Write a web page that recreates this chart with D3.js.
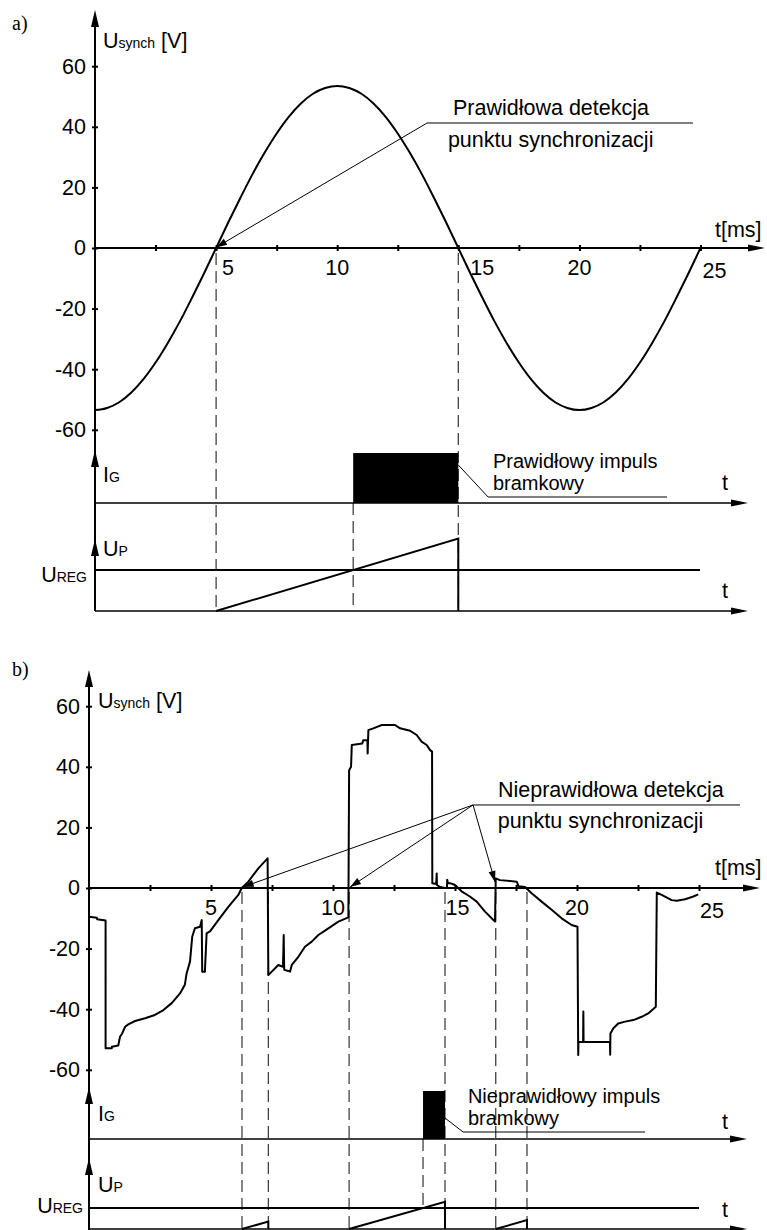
<!DOCTYPE html>
<html>
<head>
<meta charset="utf-8">
<script src="https://cdn.jsdelivr.net/npm/d3@7"></script>
<style>
  body { margin:0; background:#fff; }
  svg { display:block; font-family:"Liberation Sans", Arial, sans-serif; }
</style>
</head>
<body>
<svg id="fig" width="767" height="1230"></svg>
<script>
/* ── data ───────────────────────────────── */
const tTicks  = [2.5, 5, 7.5, 10, 12.5, 15, 17.5, 20, 22.5, 25];
const tLabels = [5, 10, 15, 20, 25];
const vTicks  = [60, 40, 20, 0, -20, -40, -60];

// a) clean synchronising voltage, read at 0.5 ms steps
const sineT = [0,0.5,1,1.5,2,2.5,3,3.5,4,4.5,5,5.5,6,6.5,7,7.5,8,8.5,9,9.5,10,10.5,11,11.5,12,12.5,
               13,13.5,14,14.5,15,15.5,16,16.5,17,17.5,18,18.5,19,19.5,20,20.5,21,21.5,22,22.5,23,23.5,24,24.5,25];
const sineV = [-53.5,-52.8,-50.9,-47.7,-43.3,-37.8,-31.4,-24.3,-16.5,-8.4,0,8.4,16.5,24.3,31.4,37.8,43.3,47.7,50.9,52.8,
               53.5,52.8,50.9,47.7,43.3,37.8,31.4,24.3,16.5,8.4,0,-8.4,-16.5,-24.3,-31.4,-37.8,-43.3,-47.7,-50.9,-52.8,
               -53.5,-52.8,-50.9,-47.7,-43.3,-37.8,-31.4,-24.3,-16.5,-8.4,0];

// b) distorted synchronising voltage [t ms, V]
const distorted = [
  [0,-9.5],[0.32,-9.8],[0.33,-10.3],[0.68,-10.7],[0.68,-52.9],[0.93,-52.9],[0.94,-52.4],[1.2,-52],
  [1.27,-49.1],[1.36,-48],[1.48,-45.8],[1.61,-45],[1.89,-43.9],[2.3,-43],[2.7,-41.9],[3.05,-40.3],
  [3.39,-38],[3.73,-34.8],[3.93,-31.9],[4.0,-28.2],[4.14,-24.3],[4.23,-16.1],[4.34,-13.3],[4.55,-12.8],
  [4.62,-10.6],[4.64,-27.6],[4.75,-27.6],[4.82,-15],[4.96,-14.3],[5.3,-10.6],[5.71,-6.2],[6.12,-2.3],
  [6.26,0],[6.53,2.1],[6.94,6.5],[7.32,9.8],[7.35,-28.7],[7.49,-27.6],[7.76,-25.4],[7.95,-26],
  [7.98,-15.5],[8.0,-27],[8.24,-27.6],[8.31,-25.4],[8.58,-22.7],[8.85,-19.4],[9.13,-17.7],[9.4,-15.5],
  [9.81,-13.3],[10.22,-11.1],[10.63,-9.7],[10.66,38.9],[10.74,40],[10.77,47.2],[11.2,47.7],[11.24,48.8],
  [11.41,48.8],[11.42,44.4],[11.45,52.1],[11.65,52.7],[12.0,53.8],[12.54,53.8],[12.75,52.7],[13.16,51.9],
  [13.43,50.5],[13.63,48.3],[13.84,47.2],[13.98,45.5],[14.06,45],[14.07,1.6],[14.23,1.3],[14.25,4.8],
  [14.26,1.0],[14.39,0.3],[14.59,0],[14.67,0],[14.68,2.7],[14.71,1.6],[14.8,1.6],[15.0,1.0],
  [15.27,-1.1],[15.61,-2.8],[15.89,-4.5],[16.23,-7.8],[16.43,-9.4],[16.64,-11.1],[16.67,3.2],[16.84,2.6],
  [17.53,2.1],[17.6,0.6],[17.87,0.3],[18.14,-1.7],[18.55,-4.5],[18.96,-7.2],[19.37,-10],[19.78,-12.2],
  [20.02,-12.8],[20.05,-55.1],[20.06,-50.8],[20.25,-50.8],[20.26,-40.8],[20.27,-50.8],[21.35,-50.8],
  [21.36,-55],[21.37,-48],[21.49,-46.3],[21.69,-44.7],[21.97,-44.1],[22.31,-43.6],[22.65,-42.5],
  [22.92,-41.4],[23.23,-39.2],[23.27,-1.5],[23.47,-2.3],[23.88,-4],[24.09,-4.2],[24.43,-3.7],
  [24.77,-2.8],[24.97,-2.1]
];

// gate pulses, saw-tooth ramps, UREG level (ramp units) and guide lines, ms
const gateA = [10.66, 15];
const rampA = [[5, 15]];
const uRegA = 5.66;
const dashA = [5, 15];
const dashGateA = [10.66];

const gateB = [13.69, 14.59];
const rampB = [[6.27, 7.35], [10.66, 14.59], [16.67, 17.95]];
const uRegB = 3.03;
const dashB = [6.27, 7.35, 10.66, 14.59, 16.67, 17.95];
const dashGateB = [13.69];

/* ── drawing ────────────────────────────── */
const svg = d3.select('#fig');
const FS = 21.5;

function arrowV(g, x, tip) {
  g.append('path').attr('d', `M${x},${tip}L${x-4},${tip+17}L${x+4},${tip+17}Z`).attr('fill', '#000');
}
function arrowH(g, tip, y) {
  g.append('path').attr('d', `M${tip},${y}L${tip-17},${y-3.5}L${tip-17},${y+3.5}Z`).attr('fill', '#000');
}
function leaderHead(g, x1, y1, x2, y2) {
  const a = Math.atan2(y2 - y1, x2 - x1), L = 11, W = 3.5;
  const bx = x2 - L*Math.cos(a), by = y2 - L*Math.sin(a);
  const px = -Math.sin(a)*W, py = Math.cos(a)*W;
  g.append('path').attr('d', `M${x2},${y2}L${bx+px},${by+py}L${bx-px},${by-py}Z`).attr('fill', '#000');
}
function subText(g, x, y, big, small, rest, anchor) {
  const t = g.append('text').attr('x', x).attr('y', y).attr('text-anchor', anchor || 'start');
  t.append('tspan').attr('font-size', FS).text(big);
  t.append('tspan').attr('font-size', 14).text(small);
  if (rest) t.append('tspan').attr('font-size', FS).text(rest);
  return t;
}

function panel(c, d) {
  const g = svg.append('g');
  const x   = d3.scaleLinear().domain([0, 25]).range([c.ox, c.ox + 25*c.pxms]);
  const y   = d3.scaleLinear().domain([-60, 60]).range([c.oy + 60*3.03, c.oy - 60*3.03]);
  const yIg = d3.scaleLinear().domain([0, 1]).range([c.igBase, c.igBase - c.igH]);
  const yUp = d3.scaleLinear().domain([0, 10]).range([c.upBase, c.upBase - 10*c.upK]);

  // dashed guides
  g.selectAll('.dash').data(d.dash).enter().append('line')
    .attr('x1', x).attr('x2', x).attr('y1', c.dashTop).attr('y2', c.upBase)
    .attr('stroke', '#333').attr('stroke-width', 1.2).attr('stroke-dasharray', '12,6');
  g.selectAll('.dashg').data(d.dashGate).enter().append('line')
    .attr('x1', x).attr('x2', x).attr('y1', c.igBase).attr('y2', c.gateDashToUreg ? yUp(d.ureg) : c.upBase)
    .attr('stroke', '#333').attr('stroke-width', 1.2).attr('stroke-dasharray', '12,6');

  // gate pulse
  g.append('rect')
    .attr('x', x(d.gate[0])).attr('width', x(d.gate[1]) - x(d.gate[0]))
    .attr('y', yIg(1)).attr('height', yIg(0) - yIg(1)).attr('fill', '#000');

  // channel baselines
  [c.igBase, c.upBase].forEach(b => {
    g.append('line').attr('x1', c.ox).attr('x2', c.chTip - 10).attr('y1', b).attr('y2', b)
      .attr('stroke', '#000').attr('stroke-width', 1.5);
    arrowH(g, c.chTip, b);
  });
  g.append('line').attr('x1', c.ox).attr('x2', c.uregEnd).attr('y1', yUp(d.ureg)).attr('y2', yUp(d.ureg))
    .attr('stroke', '#000').attr('stroke-width', 2);

  // ramps
  const rl = d3.line().x(p => x(p[0])).y(p => yUp(p[1]));
  g.selectAll('.ramp').data(d.ramps).enter().append('path')
    .attr('d', r => rl([[r[0], 0], [r[1], r[1] - r[0]], [r[1], 0]]))
    .attr('fill', 'none').attr('stroke', '#000').attr('stroke-width', 2);

  // synch voltage
  const sl = d3.line().x(p => x(p[0])).y(p => y(p[1]));
  if (d.smooth) sl.curve(d3.curveMonotoneX);
  g.append('path').attr('d', sl(d.signal)).attr('fill', 'none')
    .attr('stroke', '#000').attr('stroke-width', 2).attr('stroke-linejoin', 'round');

  // y axis
  g.append('line').attr('x1', c.ox).attr('x2', c.ox).attr('y1', c.axTop + 8).attr('y2', c.axBot)
    .attr('stroke', '#000').attr('stroke-width', 2);
  arrowV(g, c.ox, c.axTop);
  arrowV(g, c.ox, c.igTip);
  arrowV(g, c.ox, c.upTip);
  const ya = g.append('g').attr('transform', `translate(${c.ox},0)`)
    .call(d3.axisLeft(y).tickValues(vTicks).tickSize(3).tickPadding(6).tickFormat(v => String(v)));
  ya.select('.domain').remove();
  ya.selectAll('.tick line').attr('x1', 3).attr('stroke-width', 2);
  ya.selectAll('.tick text').attr('font-size', FS).attr('font-family', '"Liberation Sans", Arial, sans-serif');

  // t axis
  g.append('line').attr('x1', c.ox).attr('x2', c.zeroTip - 10).attr('y1', y(0)).attr('y2', y(0))
    .attr('stroke', '#000').attr('stroke-width', 2);
  arrowH(g, c.zeroTip, y(0));
  const xa = g.append('g').attr('transform', `translate(0,${y(0)})`)
    .call(d3.axisBottom(x).tickValues(tTicks).tickSize(3).tickFormat(''));
  xa.select('.domain').remove();
  xa.selectAll('.tick line').attr('y1', -3).attr('stroke-width', 2);
  g.selectAll('.tl').data(tLabels).enter().append('text')
    .attr('x', v => x(v) + c.lab[v][0]).attr('y', v => y(0) + 26.5 + c.lab[v][1])
    .attr('text-anchor', 'middle').attr('font-size', FS).text(v => v);
  g.append('text').attr('x', c.tmsX).attr('y', y(0) + c.tmsDy).attr('font-size', FS).text('t[ms]');

  // axis names
  subText(g, c.nameX, c.uNameY, 'U', 'synch', ' [V]');
  subText(g, c.nameX, c.igBase + c.igNameDy, 'I', 'G');
  subText(g, c.nameX, c.upBase + c.upNameDy, 'U', 'P');
  subText(g, c.ox - c.uregDx, yUp(d.ureg) + c.uregDy, 'U', 'REG', null, 'end');
  g.append('text').attr('x', 725).attr('y', c.igBase + c.tIgDy).attr('font-size', FS).attr('text-anchor', 'middle').text('t');
  g.append('text').attr('x', 725).attr('y', c.upBase + c.tUpDy).attr('font-size', FS).attr('text-anchor', 'middle').text('t');

  // panel letter
  g.append('text').attr('x', 12).attr('y', c.letterY).attr('font-family', '"Liberation Serif", "Times New Roman", serif')
    .attr('font-size', 20).text(c.letter);

  // detection note
  const n = c.note;
  const ex = x(n.elbow[0]), ey = y(n.elbow[1]);
  n.tips.forEach(tp => {
    const tx = x(tp[0]), ty = y(tp[1]);
    g.append('line').attr('x1', ex).attr('y1', ey).attr('x2', tx).attr('y2', ty).attr('stroke', '#000').attr('stroke-width', 1);
    leaderHead(g, ex, ey, tx, ty);
  });
  g.append('line').attr('x1', ex).attr('y1', ey).attr('x2', x(n.end)).attr('y2', ey).attr('stroke', '#000').attr('stroke-width', 1);
  g.append('text').attr('x', x(n.t1[0])).attr('y', y(n.t1[1])).attr('font-size', FS).text(n.l1);
  g.append('text').attr('x', x(n.t2[0])).attr('y', y(n.t2[1])).attr('font-size', FS).text(n.l2);

  // gate note
  const q = c.gnote;
  g.append('path')
    .attr('d', `M${x(q.from)},${c.igBase + q.fromDy}L${x(q.elbow)},${c.igBase + q.lineDy}L${x(q.end)},${c.igBase + q.lineDy}`)
    .attr('fill', 'none').attr('stroke', '#000').attr('stroke-width', 1);
  g.append('text').attr('x', x(q.textT)).attr('y', c.igBase + q.l1Dy).attr('font-size', 20).text(q.l1);
  g.append('text').attr('x', x(q.textT)).attr('y', c.igBase + q.l2Dy).attr('font-size', 20).text(q.l2);
}

panel({
  letter:'a)', letterY:30,
  ox:95, pxms:24.22, oy:248, axTop:10, axBot:611, zeroTip:765, chTip:748,
  igTip:450, igBase:503, igH:50, upTip:539, upBase:611, upK:7.24, uregEnd:700,
  dashTop:253, gateDashToUreg:false,
  lab:{5:[12,0], 10:[0,0], 15:[24,0], 20:[0,0], 25:[14,3]},
  tmsX:715, tmsDy:-11,
  nameX:103, uNameY:48, igNameDy:-21, upNameDy:-55, uregDx:8, uregDy:12, tIgDy:-13, tUpDy:-13,
  note:{ elbow:[13.71, 41.25], end:24.69, tips:[[5, 0.2]],
         t1:[14.78, 43.9], t2:[14.57, 33.3],
         l1:'Prawidłowa detekcja', l2:'punktu synchronizacji' },
  gnote:{ from:15, fromDy:-38, elbow:16.23, end:23.62, lineDy:-6, textT:16.43, l1Dy:-35, l2Dy:-13,
          l1:'Prawidłowy impuls', l2:'bramkowy' }
}, { signal: sineT.map((t, i) => [t, sineV[i]]), smooth:true,
     gate:gateA, ramps:rampA, ureg:uRegA, dash:dashA, dashGate:dashGateA });

panel({
  letter:'b)', letterY:676,
  ox:89, pxms:24.4, oy:888, axTop:670, axBot:1230, zeroTip:760, chTip:747,
  igTip:1087, igBase:1139, igH:48, upTip:1158, upBase:1229, upK:6.93, uregEnd:699,
  dashTop:892, gateDashToUreg:true,
  lab:{5:[0,0], 10:[0,0], 15:[2.5,0], 20:[0,0], 25:[13,3]},
  tmsX:715, tmsDy:-13,
  nameX:98, uNameY:708, igNameDy:-18, upNameDy:-37, uregDx:6, uregDy:5, tIgDy:-10, tUpDy:-12,
  note:{ elbow:[15.74, 27.4], end:26.68, tips:[[6.3, 0.3], [10.7, 0.3], [16.64, 2]],
         t1:[16.76, 30.0], t2:[16.75, 19.7],
         l1:'Nieprawidłowa detekcja', l2:'punktu synchronizacji' },
  gnote:{ from:14.59, fromDy:-21, elbow:15.33, end:22.79, lineDy:-7, textT:15.53, l1Dy:-36, l2Dy:-14,
          l1:'Nieprawidłowy impuls', l2:'bramkowy' }
}, { signal: distorted, smooth:false,
     gate:gateB, ramps:rampB, ureg:uRegB, dash:dashB, dashGate:dashGateB });
</script>
</body>
</html>
